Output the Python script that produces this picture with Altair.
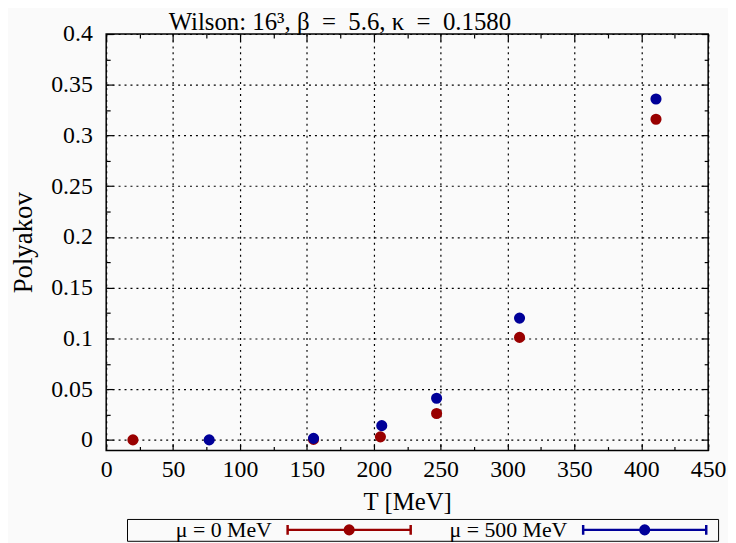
import altair as alt
import pandas as pd

# ---- data ----
T_mu0 = [20, 155, 205, 247, 309, 411]
P_mu0 = [0.0, 0.0005, 0.003, 0.026, 0.101, 0.316]
T_mu500 = [77, 155, 206, 247, 309, 411]
P_mu500 = [0.0, 0.0015, 0.014, 0.041, 0.120, 0.336]
series = ["μ = 0 MeV", "μ = 500 MeV"]
colors = ["#990000", "#000099"]
x_major = [0, 50, 100, 150, 200, 250, 300, 350, 400, 450]
x_minor = [25, 75, 125, 175, 225, 275, 325, 375, 425]
y_major = [0, 0.05, 0.1, 0.15, 0.2, 0.25, 0.3, 0.35, 0.4]
y_minor = [0.025, 0.075, 0.125, 0.175, 0.225, 0.275, 0.325, 0.375]
title_text = "Wilson: 16³, β\u2002=\u20025.6, κ\u2002=\u20020.1580"

rows = []
for t, p in zip(T_mu0, P_mu0):
    rows.append({"T": t, "P": p, "s": series[0]})
for t, p in zip(T_mu500, P_mu500):
    rows.append({"T": t, "P": p, "s": series[1]})
df = pd.DataFrame(rows)

FONT = "Liberation Serif"
BG = "#fafafa"
xscale = alt.Scale(domain=[0, 450], nice=False, zero=False)
yscale = alt.Scale(domain=[-0.0105, 0.4], nice=False, zero=False)

sym = ("M-10,0L10,0M-10,-0.8L-10,0.8M10,-0.8L10,0.8"
       "M0.7,0A0.7,0.7,0,1,1,-0.7,0A0.7,0.7,0,1,1,0.7,0Z M11,0")
S = 213
legend = alt.Legend(
    orient="none", legendX=21, legendY=489, direction="horizontal",
    title=None,
    symbolType=sym, symbolSize=154, symbolStrokeWidth=2.5,
    labelFont=FONT, labelFontSize=22, labelAlign="right", labelColor="black",
    symbolOffset=S, labelOffset={"expr": "-89"},
    columnPadding=0,
    strokeColor="black", fillColor=BG, padding=0, labelLimit=400,
)
cscale = alt.Scale(domain=series, range=colors)

points = alt.Chart(df).mark_point(filled=True, size=85, opacity=1).encode(
    x=alt.X("T:Q", scale=xscale, axis=alt.Axis(
        values=x_major, ticks=False, domain=False, grid=True,
        gridColor="black", gridDash=[2, 4], gridWidth=1.2, gridOpacity=1,
        labelFont=FONT, labelFontSize=24, labelColor="black", labelPadding=7,
        labelFlush=False,
        title="T [MeV]", titleFont=FONT, titleFontSize=25,
        titleFontWeight="normal", titleColor="black", titlePadding=8)),
    y=alt.Y("P:Q", scale=yscale, axis=alt.Axis(
        values=y_major, ticks=False, domain=False, grid=True,
        gridColor="black", gridDash=[2, 4], gridWidth=1.2, gridOpacity=1,
        labelFont=FONT, labelFontSize=24, labelColor="black", labelPadding=14,
        labelExpr="format(datum.value, '.2~f')", labelFlush=False,
        title="Polyakov", titleFont=FONT, titleFontSize=27,
        titleFontWeight="normal", titleColor="black", titlePadding=13)),
    fill=alt.Fill("s:N", scale=cscale, legend=legend, sort=series),
    stroke=alt.Stroke("s:N", scale=cscale, legend=legend, sort=series),
    order=alt.Order("s:N"),
)

layers = [points]
for orient in ["bottom", "top"]:
    for vals, size in [(x_major, 7), (x_minor, 4)]:
        layers.append(alt.Chart(df).mark_point(opacity=0).encode(
            x=alt.X("T:Q", scale=xscale, axis=alt.Axis(
                orient=orient, values=vals, tickSize=size, offset=-size,
                tickColor="black", tickWidth=1.2, labels=False,
                domain=False, grid=False, title=None)),
            y=alt.Y("P:Q", scale=yscale, axis=None)))
for orient in ["left", "right"]:
    for vals, size in [(y_major, 7), (y_minor, 4)]:
        layers.append(alt.Chart(df).mark_point(opacity=0).encode(
            x=alt.X("T:Q", scale=xscale, axis=None),
            y=alt.Y("P:Q", scale=yscale, axis=alt.Axis(
                orient=orient, values=vals, tickSize=size, offset=-size,
                tickColor="black", tickWidth=1.2, labels=False,
                domain=False, grid=False, title=None))))

chart = alt.layer(*layers).resolve_axis(
    x="independent", y="independent"
).properties(
    width=607, height=420,
    background=BG,
    autosize=alt.AutoSizeParams(type="none"),
    padding={"left": 99, "top": 24, "right": 20, "bottom": 91},
    title=alt.TitleParams(
        text=title_text, anchor="start", dx=63,
        offset=-13, frame="group"),
).configure_view(stroke="black", strokeWidth=1.5).configure_title(
    font=FONT, fontSize=25, fontWeight="normal", color="black"
).configure_axis(labelFont=FONT, titleFont=FONT).configure_legend(
    labelFont=FONT)

chart.save("out.html", embed_options={"renderer": "svg", "actions": False})
